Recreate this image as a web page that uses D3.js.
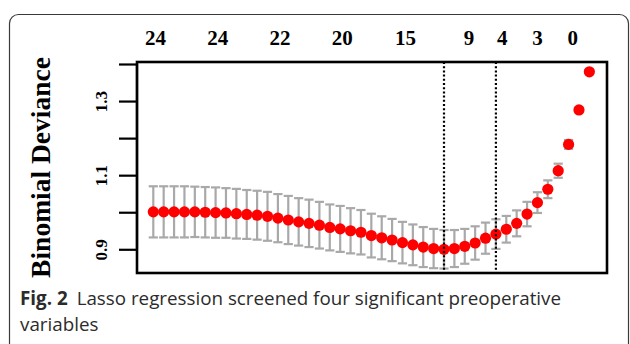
<!DOCTYPE html>
<html>
<head>
<meta charset="utf-8">
<script src="https://cdn.jsdelivr.net/npm/d3@7"></script>
<style>
  body { margin: 0; background: #fff; }
  svg { display: block; }
</style>
</head>
<body>
<div id="chart"></div>
<script>
// lambda steps along the x axis (index of each lambda in the path)
const lambdaStep = d3.range(43);

// mean cross-validated binomial deviance at each lambda
const meanDev = [1.001, 1.001, 1.001, 1.001, 1.001, 1.000, 0.999, 0.998, 0.996, 0.994,
  0.992, 0.989, 0.984, 0.979, 0.974, 0.970, 0.965, 0.959, 0.955, 0.950,
  0.946, 0.937, 0.931, 0.925, 0.918, 0.912, 0.906, 0.902, 0.900, 0.902,
  0.908, 0.917, 0.930, 0.941, 0.954, 0.970, 0.995, 1.026, 1.062, 1.112,
  1.183, 1.276, 1.379];

// standard error of the deviance
const seDev = [0.069, 0.069, 0.069, 0.069, 0.068, 0.068, 0.068, 0.067, 0.067, 0.066,
  0.066, 0.066, 0.065, 0.065, 0.064, 0.064, 0.063, 0.062, 0.062, 0.061,
  0.060, 0.059, 0.058, 0.057, 0.056, 0.055, 0.054, 0.053, 0.052, 0.050,
  0.047, 0.045, 0.042, 0.040, 0.036, 0.035, 0.033, 0.028, 0.024, 0.019,
  0.012, 0.006, 0.003];

// number of non-zero coefficients shown along the top
const nzLabels = ["24", "24", "22", "20", "15", "9", "4", "3", "0"];
const nzAt = [0.2, 6.2, 12.2, 18.2, 24.3, 30.4, 33.6, 37, 40.4];

// lambda.min and lambda.1se
const cutSteps = [28, 33];

// y axis ticks
const yTicks = [0.9, 1.0, 1.1, 1.2, 1.3, 1.4];
const yTickLabels = ["0.9", "", "1.1", "", "1.3", ""];

const W = 630, H = 344;
const box = { left: 137, right: 607, top: 62, bottom: 273 };

const svg = d3.select("#chart").append("svg")
  .attr("width", W)
  .attr("height", H);

// outer figure frame
svg.append("rect")
  .attr("x", 9.5).attr("y", 14.5)
  .attr("width", 619).attr("height", 345)
  .attr("rx", 9).attr("ry", 9)
  .attr("fill", "none")
  .attr("stroke", "#3a3a3a")
  .attr("stroke-width", 1.2);

const x = d3.scaleLinear()
  .domain([-1.57, 43.7])
  .range([box.left, box.right]);

const y = d3.scaleLinear()
  .domain([0.836, 1.4054])
  .range([box.bottom, box.top]);

// y axis
const yAxis = svg.append("g")
  .attr("transform", `translate(${box.left},0)`)
  .call(d3.axisLeft(y)
    .tickValues(yTicks)
    .tickSize(18)
    .tickFormat((d, i) => yTickLabels[i]));
yAxis.select(".domain").remove();
yAxis.selectAll(".tick line")
  .attr("stroke", "#000")
  .attr("stroke-width", 2.2);
yAxis.append("line")
  .attr("y1", y(1.4)).attr("y2", y(0.9))
  .attr("stroke", "#000").attr("stroke-width", 2.2);
yAxis.selectAll(".tick text")
  .attr("x", null).attr("dy", null)
  .attr("transform", "translate(-30,0) rotate(-90)")
  .attr("text-anchor", "middle")
  .attr("fill", "#000")
  .style("font-family", "'Liberation Serif', 'Times New Roman', serif")
  .style("font-weight", "bold")
  .style("font-size", "17px");

// y label
svg.append("text")
  .attr("transform", `translate(50,${(box.top + box.bottom) / 2}) rotate(-90)`)
  .attr("text-anchor", "middle")
  .style("font-family", "'Liberation Serif', 'Times New Roman', serif")
  .style("font-weight", "bold")
  .style("font-size", "27.5px")
  .text("Binomial Deviance");

// top axis: non-zero coefficient counts
svg.append("g")
  .selectAll("text")
  .data(nzLabels)
  .join("text")
  .attr("x", (d, i) => x(nzAt[i]))
  .attr("y", 45)
  .attr("text-anchor", "middle")
  .style("font-family", "'Liberation Serif', 'Times New Roman', serif")
  .style("font-weight", "bold")
  .style("font-size", "21px")
  .text(d => d);

const pts = lambdaStep.map((s, i) => ({ s, m: meanDev[i], se: seDev[i] }));
const cap = 4.6;

// error bars
const bars = svg.append("g")
  .attr("stroke", "#a9a9a9")
  .attr("stroke-width", 2.2);
bars.selectAll(".v")
  .data(pts)
  .join("line")
  .attr("x1", d => x(d.s)).attr("x2", d => x(d.s))
  .attr("y1", d => y(d.m + d.se)).attr("y2", d => y(d.m - d.se));
bars.selectAll(".hi")
  .data(pts)
  .join("line")
  .attr("x1", d => x(d.s) - cap).attr("x2", d => x(d.s) + cap)
  .attr("y1", d => y(d.m + d.se)).attr("y2", d => y(d.m + d.se));
bars.selectAll(".lo")
  .data(pts)
  .join("line")
  .attr("x1", d => x(d.s) - cap).attr("x2", d => x(d.s) + cap)
  .attr("y1", d => y(d.m - d.se)).attr("y2", d => y(d.m - d.se));

// points
svg.append("g")
  .selectAll("circle")
  .data(pts)
  .join("circle")
  .attr("cx", d => x(d.s))
  .attr("cy", d => y(d.m))
  .attr("r", 5.6)
  .attr("fill", "#ff0000");

// dotted lambda lines
svg.append("g")
  .selectAll("line")
  .data(cutSteps)
  .join("line")
  .attr("x1", d => x(d)).attr("x2", d => x(d))
  .attr("y1", box.top).attr("y2", box.bottom)
  .attr("stroke", "#000")
  .attr("stroke-width", 2.2)
  .attr("stroke-dasharray", "2 2.2");

// plot box
svg.append("rect")
  .attr("x", box.left).attr("y", box.top)
  .attr("width", box.right - box.left)
  .attr("height", box.bottom - box.top)
  .attr("fill", "none")
  .attr("stroke", "#000")
  .attr("stroke-width", 2.6);

// caption
const cap1 = svg.append("text")
  .attr("x", 20).attr("y", 305)
  .style("font-family", "'Open Sans', 'Noto Sans', sans-serif")
  .style("font-size", "18.8px")
  .attr("fill", "#2b2b2b");
cap1.append("tspan").style("font-weight", "bold").text("Fig. 2");
cap1.append("tspan").attr("dx", 9).text("Lasso regression screened four significant preoperative");

svg.append("text")
  .attr("x", 20).attr("y", 331)
  .style("font-family", "'Open Sans', 'Noto Sans', sans-serif")
  .style("font-size", "18.8px")
  .attr("fill", "#2b2b2b")
  .text("variables");
</script>
</body>
</html>
